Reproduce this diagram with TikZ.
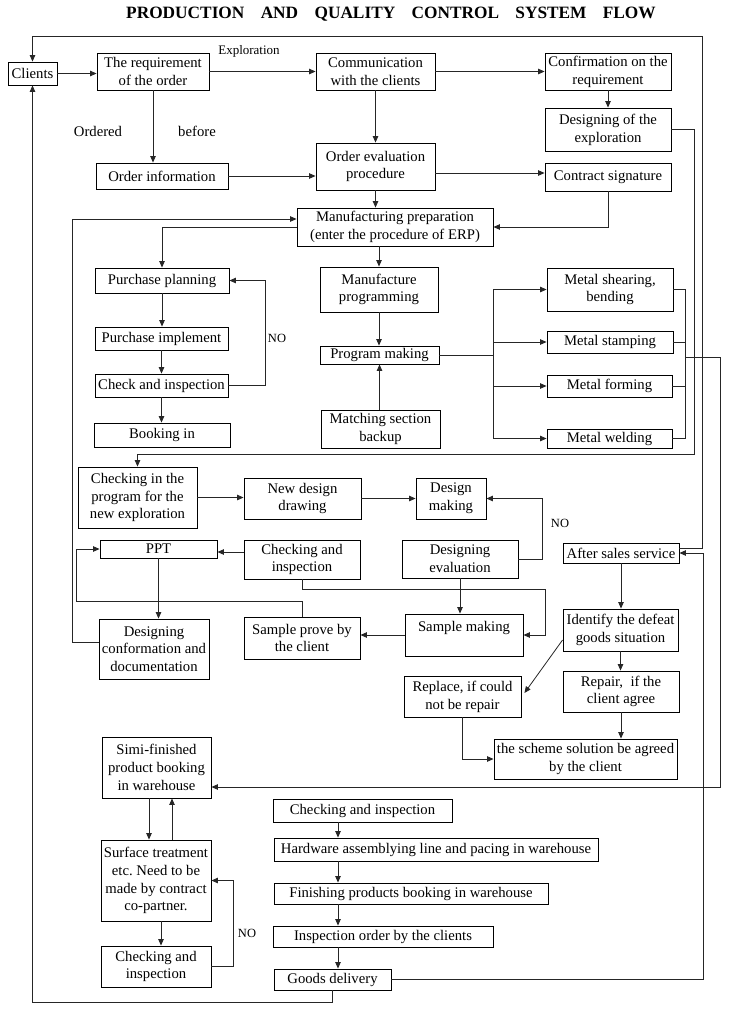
\documentclass[tikz,border=0pt]{standalone}
\usepackage{fontspec}
\setmainfont{Liberation Serif}
\usetikzlibrary{arrows.meta,calc}
\frenchspacing
\newcommand\BX[6]{\node[box,minimum width={(#4)-(#2)},minimum height={(#5)-(#3)}] (#1) at ({((#2)+(#4))/2},{((#3)+(#5))/2}) {#6};}
\begin{document}
\begin{tikzpicture}[x=1pt,y=-1pt, font=\fontsize{14.7}{17.8}\selectfont,
 box/.style={draw, line width=0.9pt, inner sep=0pt, align=center},
 con/.style={line width=0.8pt, draw=black!85, -{Triangle[length=6.5pt,width=5.5pt]}},
 lin/.style={line width=0.8pt, draw=black!85},
 lbl/.style={inner sep=0pt, font=\fontsize{12.5}{14}\selectfont}]
\useasboundingbox (0,0) rectangle (730,1017);
\node[font=\fontsize{17.3}{20}\selectfont\bfseries] (title) at (391,14) {PRODUCTION\hspace{12pt} AND\hspace{12pt} QUALITY\hspace{12pt} CONTROL\hspace{12pt} SYSTEM\hspace{12pt} FLOW};

\BX{clients}{8}{62}{57}{85}{Clients}
\BX{req}{97}{53}{209}{90}{The requirement\\of the order}
\BX{comm}{316}{53}{435}{90}{Communication\\with the clients}
\BX{conf}{545}{53}{671}{90}{Confirmation on the\\requirement}
\BX{desexp}{545}{108}{671}{151}{Designing of the\\exploration}
\BX{ordinfo}{96}{163}{228}{189}{Order information}
\BX{ordeval}{316}{143}{435}{190}{Order evaluation\\procedure}
\BX{contract}{545}{163}{671}{191}{Contract signature}
\BX{mprep}{297}{208}{493}{246}{Manufacturing preparation\\(enter the procedure of ERP)}
\BX{pplan}{95}{268}{229}{293}{Purchase planning}
\BX{pimpl}{95}{327}{228}{350}{Purchase implement}
\BX{pcheck}{95}{374}{228}{397}{Check and inspection}
\BX{booking}{94}{423}{230}{447}{Booking in}
\BX{mprog}{320}{267}{438}{312}{Manufacture\\programming}
\BX{progmk}{320}{346}{439}{364}{Program making}
\BX{match}{321}{410}{440}{448}{Matching section\\backup}
\BX{shear}{547}{268}{673}{311}{Metal shearing,\\bending}
\BX{stamp}{547}{331}{673}{353}{Metal stamping}
\BX{form}{547}{375}{672}{397}{Metal forming}
\BX{weld}{547}{429}{672}{448}{Metal welding}
\BX{chkprog}{78}{467}{197}{528}{Checking in the\\program for the\\new exploration}
\BX{newdes}{244}{478}{361}{519}{New design\\drawing}
\BX{desmk}{416}{478}{486}{519}{Design\\making}
\BX{deseval}{402}{540}{518}{578}{Designing\\evaluation}
\BX{chkins}{244}{540}{360}{579}{Checking and\\inspection}
\BX{ppt}{100}{540}{217}{558}{PPT}
\BX{desconf}{99}{619}{209}{679}{Designing\\conformation and\\documentation}
\BX{sprove}{244}{617}{360}{659}{Sample prove by\\the client}
\BX{smake}{405}{614}{523}{656}{Sample making\\~}
\BX{after}{563}{543}{679}{563}{After sales service}
\BX{ident}{563}{609}{678}{651}{Identify the defeat\\goods situation}
\BX{repair}{563}{671}{679}{712}{Repair,\ \ if the\\client agree}
\BX{replace}{404}{676}{521}{717}{Replace, if could\\not be repair}
\BX{scheme}{494}{739}{677}{779}{the scheme solution be agreed\\by the client}
\BX{simi}{102}{737}{211}{798}{Simi-finished\\product booking\\in warehouse}
\BX{surf}{101}{840}{211}{921}{Surface treatment\\etc. Need to be\\made by contract\\co-partner.}
\BX{chkbl}{101}{946}{211}{987}{Checking and\\inspection}
\BX{chk2}{273}{799}{452}{822}{Checking and inspection}
\BX{hw}{274}{838}{598}{861}{Hardware assemblying line and pacing in warehouse}
\BX{fin}{274}{883}{548}{904}{Finishing products booking in warehouse}
\BX{insp}{273}{926}{493}{947}{Inspection order by the clients}
\BX{goods}{274}{969}{391}{990}{Goods delivery}

% top area
\draw[con] (clients.east) -- (clients.east -| req.west);
\draw[con] (req.east) -- (comm.west);
\node[lbl,font=\fontsize{13}{15}\selectfont] (explab) at (249,51) {Exploration};
\draw[con] (comm.east) -- (conf.west);
\draw[con] (conf.south) -- (desexp.north);
\draw[con] (req.south) -- (req.south |- ordinfo.north);
\node[inner sep=0pt] (ordlab) at (98,131) {Ordered};
\node[inner sep=0pt] (beflab) at (197,131) {before};
\draw[con] (ordinfo.east) -- (ordinfo.east -| ordeval.west);
\draw[con] (comm.south) -- (comm.south |- ordeval.north);
\draw[con] (ordeval.east |- 0,173) -- (contract.west |- 0,173);
\draw[con] (ordeval.south) -- (ordeval.south |- mprep.north);
\draw[con] (contract.south) |- (mprep.east);
\draw[con] (desconf.west |- 0,642) -- (72,642) -- (72,219) -- (mprep.west |- 0,219);

% purchase column
\draw[con] (mprep.west) -| (pplan.north);
\draw[con] (pplan.south) -- (pplan.south |- pimpl.north);
\draw[con] (pimpl.south) -- (pimpl.south |- pcheck.north);
\draw[con] (pcheck.south) -- (pcheck.south |- booking.north);
\draw[con] (pcheck.east) -- ++(37,0) |- (pplan.east);
\node[lbl] (no1) at (277,338) {NO};

% manufacture column
\draw[con] (mprog.north |- mprep.south) -- (mprog.north);
\draw[con] (mprog.south) -- (mprog.south |- progmk.north);
\draw[con] (progmk.south |- match.north) -- (progmk.south);
\coordinate (sp) at (493,355);
\draw[lin] (progmk.east) -- (sp);
\draw[lin] (sp |- shear.west) -- (sp |- weld.west);
\foreach \n in {shear,stamp,form,weld} \draw[con] (sp |- \n.west) -- (\n.west);
\coordinate (cl) at (685,357);
\draw[lin] (shear.east) -- (cl |- shear.east) -- (cl |- weld.east) -- (weld.east);
\draw[lin] (stamp.east) -- (cl |- stamp.east);
\draw[lin] (form.east) -- (cl |- form.east);
\draw[con] (cl) -- (720,357) -- (720,787) -- (simi.east |- 0,787);

% big loops
\draw[con] (desexp.east) -| (694,454) -| (chkprog.north);
\draw[con] (after.east |- 0,548) -| (702,36) -| (clients.north);
\draw[con] (goods.east) -| (703,553) -- (after.east);
\draw[con] (goods.south) |- (clients.south |- 0,1002) -- (clients.south);

% design area
\draw[con] (chkprog.east) -- (chkprog.east -| newdes.west);
\draw[con] (newdes.east) -- (desmk.west);
\draw[con] (deseval.east) -- ++(24,0) |- (desmk.east);
\node[lbl] (no2) at (560,523) {NO};
\draw[con] (chkins.west |- 0,552) -- (ppt.east |- 0,552);
\draw[con] (ppt.south) -- (ppt.south |- desconf.north);
\coordinate (pl) at ($(ppt.west)+(-23,0)$);
\draw[con] (sprove.north) -- (sprove.north |- 0,601) -| (pl) -- (ppt.west);
\draw[con] (chkins.south) |- (545,589) |- (smake.east);
\draw[con] (deseval.south) -- (deseval.south |- smake.north);
\draw[con] (smake.west) -- (smake.west -| sprove.east);

% after sales
\draw[con] (after.south) -- (after.south |- ident.north);
\draw[con] (ident.south) -- (ident.south |- repair.north);
\coordinate (d1) at ($(ident.west)+(0,10)$);
\coordinate (d2) at ($(replace.east)+(3,-3.5)$);
\draw[con] (d1) -- (d2);
\draw[con] (repair.south) -- (repair.south |- scheme.north);
\draw[con] (replace.south) |- (scheme.west);

% bottom left
\coordinate (s1) at ($(simi.south)+(-7.5,0)$);
\draw[con] (s1) -- (s1 |- surf.north);
\coordinate (s2) at ($(surf.north)+(16,0)$);
\draw[con] (s2) -- (s2 |- simi.south);
\coordinate (s3) at ($(surf.south)+(5,0)$);
\draw[con] (s3) -- (s3 |- chkbl.north);
\draw[con] (chkbl.east) -- ++(22,0) |- (surf.east);
\node[lbl] (no3) at (247,933) {NO};

% bottom chain
\coordinate (bx) at (338,0);
\draw[con] (bx |- chk2.south) -- (bx |- hw.north);
\draw[con] (bx |- hw.south) -- (bx |- fin.north);
\draw[con] (bx |- fin.south) -- (bx |- insp.north);
\draw[con] (bx |- insp.south) -- (bx |- goods.north);
\end{tikzpicture}
\end{document}
